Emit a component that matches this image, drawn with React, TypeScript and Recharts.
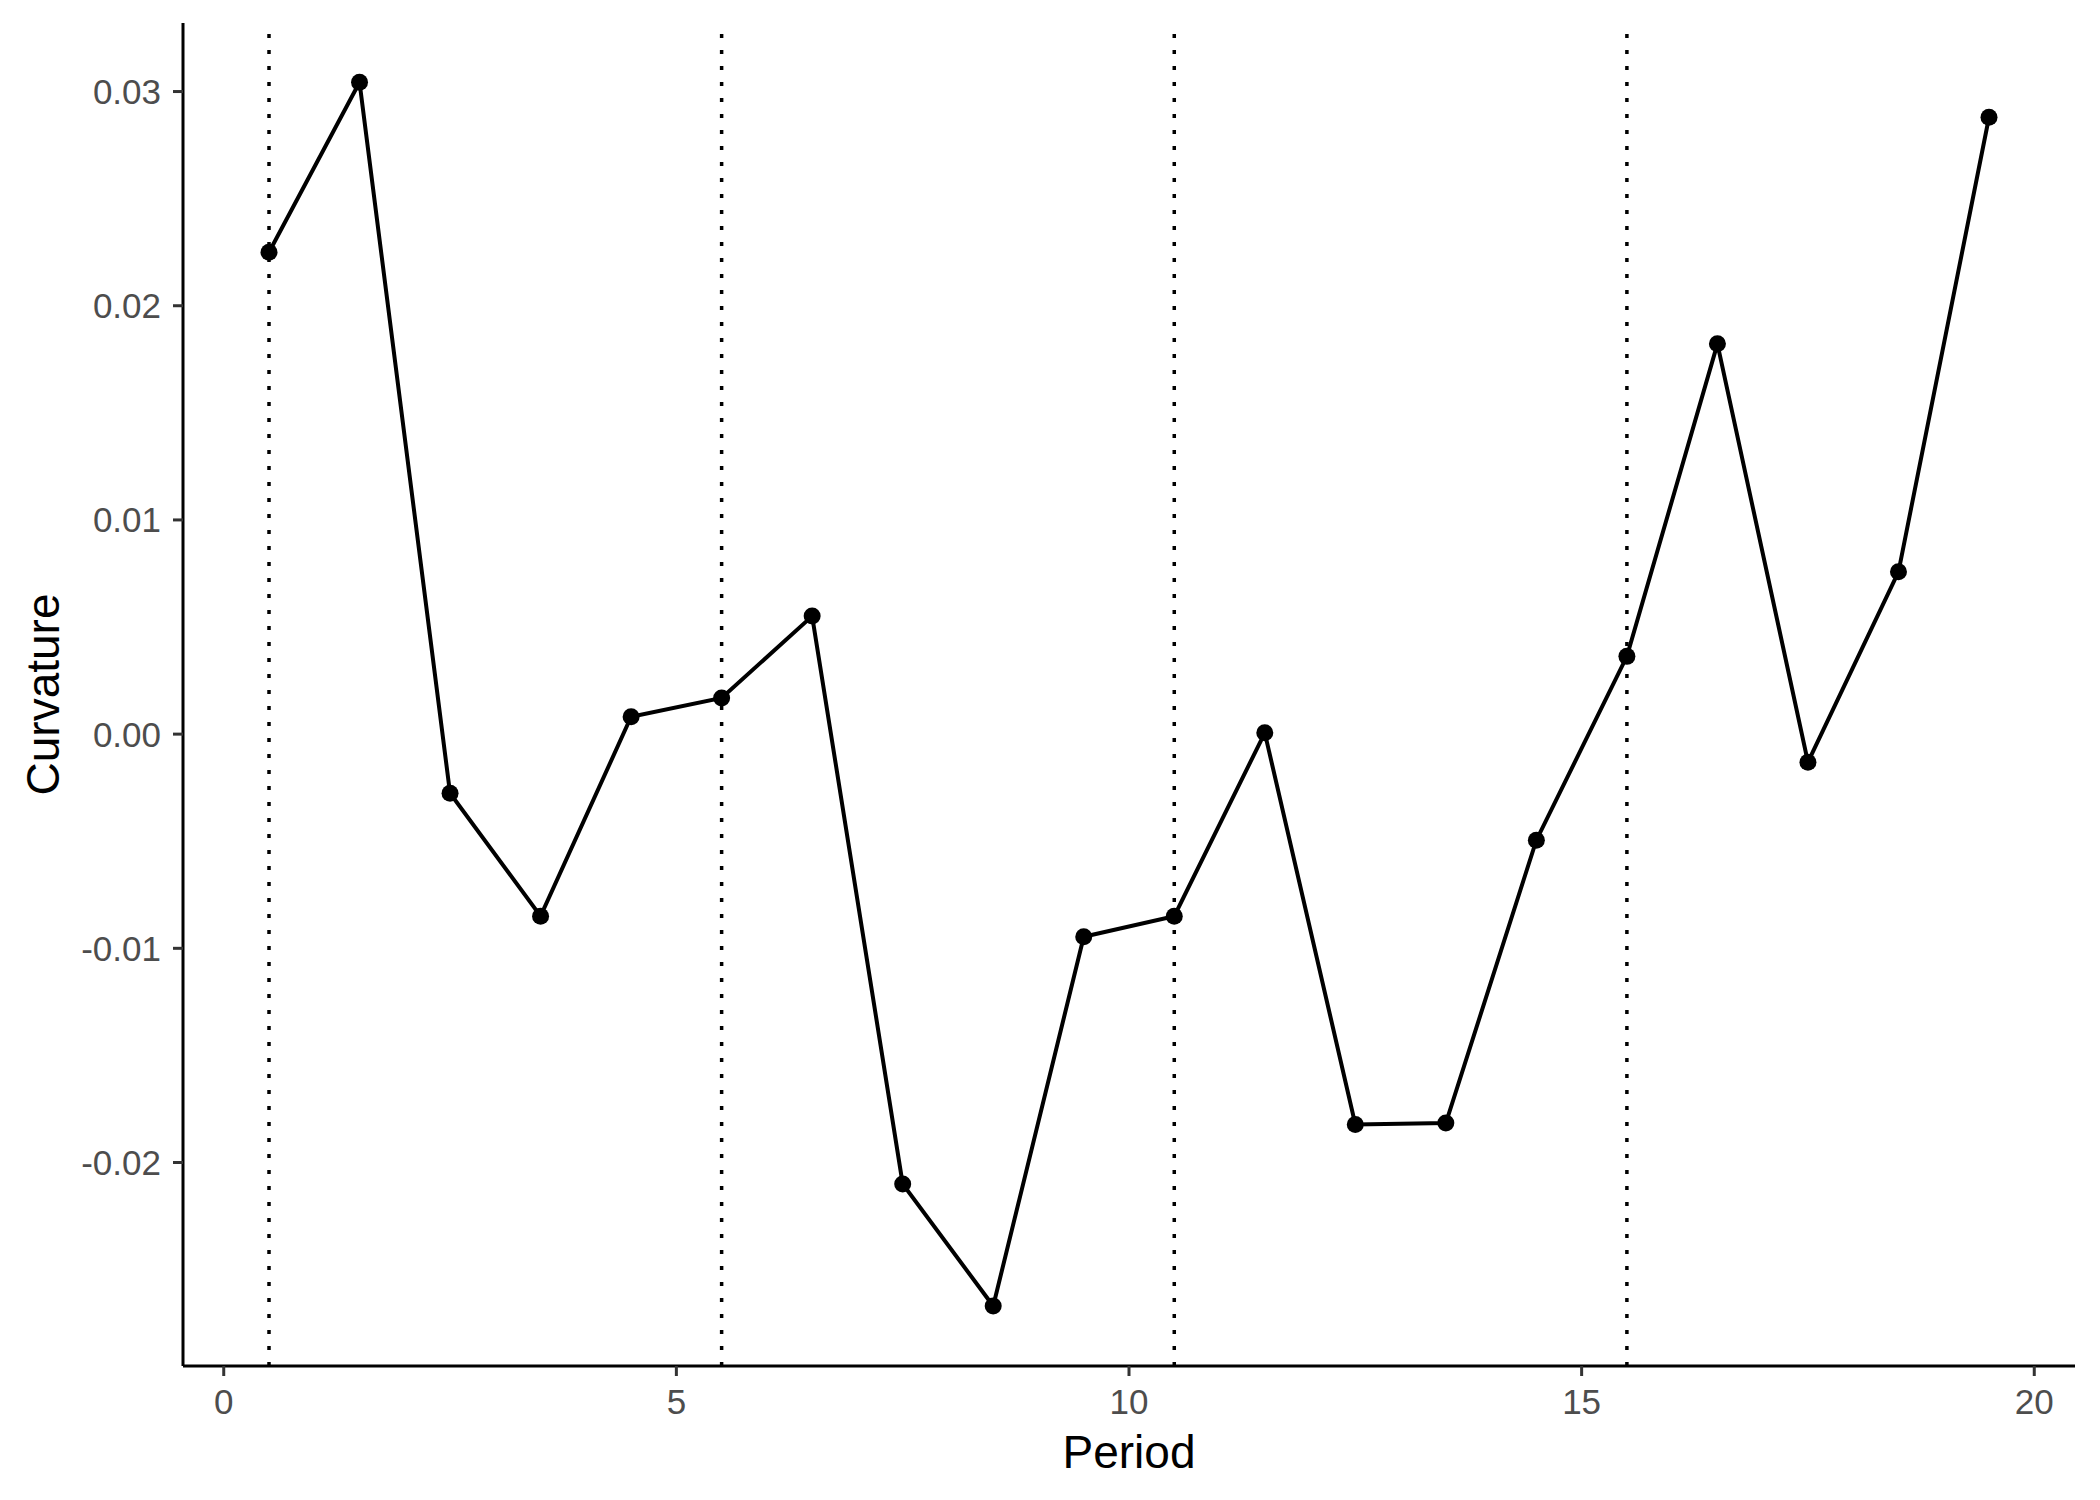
import { LineChart, Line, XAxis, YAxis, ReferenceLine } from 'recharts'

const periods = [0.5, 1.5, 2.5, 3.5, 4.5, 5.5, 6.5, 7.5, 8.5, 9.5, 10.5, 11.5, 12.5, 13.5, 14.5, 15.5, 16.5, 17.5, 18.5, 19.5]
const curvature = [
  0.0225, 0.03043, -0.00276, -0.0085, 0.00081, 0.00169, 0.00551, -0.021, -0.0267, -0.00946,
  -0.0085, 0.00006, -0.01822, -0.01816, -0.00495, 0.00363, 0.01822, -0.00131, 0.00758, 0.0288,
]
const breaks = [0.5, 5.5, 10.5, 15.5]
const xTicks = [0, 5, 10, 15, 20]
const yTicks = [-0.02, -0.01, 0, 0.01, 0.02, 0.03]

const data = periods.map((p, i) => ({ period: p, value: curvature[i] }))

const FONT = '"Liberation Sans", Arial, sans-serif'

export default function App() {
  return (
    <div style={{ position: 'absolute', left: 0, top: 0, background: '#fff' }}>
      <style>{'body{margin:0}'}</style>
      <LineChart width={2100} height={1500} data={data} margin={{ top: 23, right: 25, left: 0, bottom: 0 }}>
        <XAxis
          type="number"
          dataKey="period"
          domain={[-0.45, 20.45]}
          ticks={xTicks}
          allowDataOverflow
          height={134}
          axisLine={{ stroke: '#000', strokeWidth: 3 }}
          tickLine={{ stroke: '#333', strokeWidth: 3 }}
          tickSize={10}
          tickMargin={13}
          tick={{ fill: '#4d4d4d', fontSize: 35, fontFamily: FONT }}
          label={{
            content: (props: any) => {
              const vb = props.viewBox
              return (
                <text x={vb.x + vb.width / 2} y={1468} textAnchor="middle" fontSize={46} fontFamily={FONT} fill="#000">
                  Period
                </text>
              )
            },
          }}
        />
        <YAxis
          type="number"
          domain={[-0.0295, 0.0332]}
          ticks={yTicks}
          allowDataOverflow
          width={183}
          axisLine={{ stroke: '#000', strokeWidth: 3 }}
          tickLine={{ stroke: '#333', strokeWidth: 3 }}
          tickSize={10}
          tickMargin={12}
          tickFormatter={(v: number) => v.toFixed(2)}
          tick={{ fill: '#4d4d4d', fontSize: 35, fontFamily: FONT }}
          label={{
            content: (props: any) => {
              const vb = props.viewBox
              const cy = vb.y + vb.height / 2
              return (
                <text
                  x={59}
                  y={cy}
                  transform={`rotate(-90, 59, ${cy})`}
                  textAnchor="middle"
                  fontSize={46}
                  fontFamily={FONT}
                  fill="#000"
                >
                  Curvature
                </text>
              )
            },
          }}
        />
        {breaks.map((b) => (
          <ReferenceLine key={b} x={b} stroke="#000" strokeWidth={3.5} strokeDasharray="4 12" />
        ))}
        <Line
          type="linear"
          dataKey="value"
          stroke="#000"
          strokeWidth={4}
          dot={{ r: 8.5, fill: '#000', stroke: '#000', strokeWidth: 0 }}
          activeDot={false}
          isAnimationActive={false}
        />
      </LineChart>
    </div>
  )
}
